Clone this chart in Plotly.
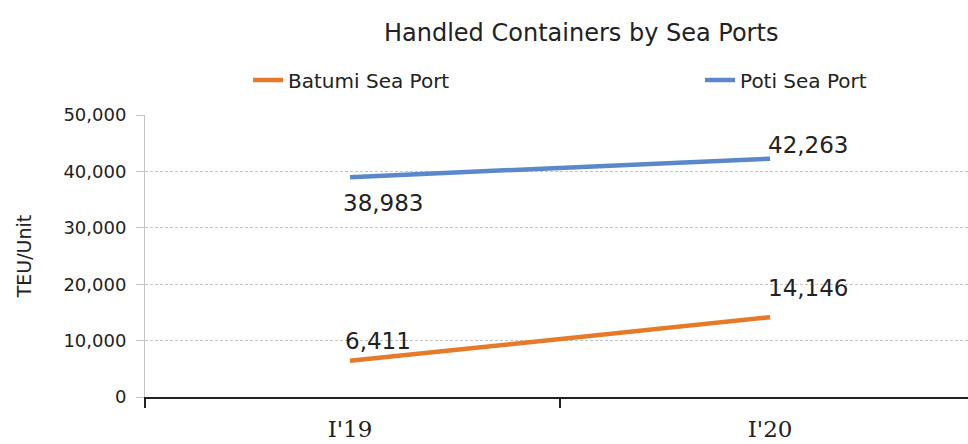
import plotly.graph_objects as go

categories = ["I'19", "I'20"]
batumi = [6411, 14146]
poti = [38983, 42263]
series_names = ["Batumi Sea Port", "Poti Sea Port"]
y_ticks = [0, 10000, 20000, 30000, 40000, 50000]

orange = "#E67A28"
blue = "#5B88CB"
txt = "#222222"

fig = go.Figure()
fig.add_trace(go.Scatter(x=[0, 1], y=batumi, mode="lines", name=series_names[0],
                         line=dict(color=orange, width=4.5), legend="legend"))
fig.add_trace(go.Scatter(x=[0, 1], y=poti, mode="lines", name=series_names[1],
                         line=dict(color=blue, width=4.5), legend="legend2"))

lab_font = dict(family="DejaVu Sans", size=23, color=txt)
# label offsets (pixels)
offsets = {
    0: [(28, 20), (38, 29)],
    1: [(33, -26), (38, 14)],
}
for si, vals in enumerate([batumi, poti]):
    for i, v in enumerate(vals):
        dx, dy = offsets[si][i]
        fig.add_annotation(x=i, y=v, text=f"{v:,}", showarrow=False,
                           xanchor="center", yanchor="middle",
                           xshift=dx, yshift=dy, font=lab_font)

leg_font = dict(family="DejaVu Sans", size=20, color=txt)
fig.update_layout(
    width=968, height=444,
    margin=dict(l=145, r=0, t=115, b=47),
    paper_bgcolor="white", plot_bgcolor="white",
    title=dict(text="Handled Containers by Sea Ports", x=0.53, xref="paper",
               xanchor="center", y=0.926, yanchor="middle",
               font=dict(family="DejaVu Sans", size=24, color=txt)),
    legend=dict(orientation="h", x=0.1252, xref="paper", y=1.124, yanchor="middle",
                xanchor="left", font=leg_font, bgcolor="rgba(0,0,0,0)"),
    legend2=dict(orientation="h", x=0.6744, xref="paper", y=1.124, yanchor="middle",
                 xanchor="left", font=leg_font, bgcolor="rgba(0,0,0,0)"),
    showlegend=True,
)
fig.update_xaxes(
    range=[-0.488, 1.471], tickmode="array", tickvals=[0, 1], ticktext=categories,
    showgrid=False, zeroline=False, showline=True, linecolor=txt, linewidth=2,
    ticks="", ticklabelstandoff=10, automargin=False,
    tickfont=dict(family="DejaVu Serif", size=23, color=txt),
    minor=dict(tickmode="array", tickvals=[-0.488, 0.5], ticks="outside",
               ticklen=9, tickcolor=txt, tickwidth=2, showgrid=False),
)
fig.update_yaxes(
    range=[0, 50000], tickvals=y_ticks, tickformat=",", automargin=True,
    showgrid=True, gridcolor="#C4C4C4", griddash="3px,2px", gridwidth=1,
    zeroline=False, showline=True, linecolor="#C4C4C4", linewidth=1,
    ticks="outside", ticklen=8, tickcolor="#C4C4C4", ticklabelstandoff=6,
    tickfont=dict(family="DejaVu Sans", size=18, color=txt),
    title=dict(text="TEU/Unit", font=dict(family="DejaVu Sans", size=19, color=txt),
               standoff=26),
)

fig.write_html("out.html")
